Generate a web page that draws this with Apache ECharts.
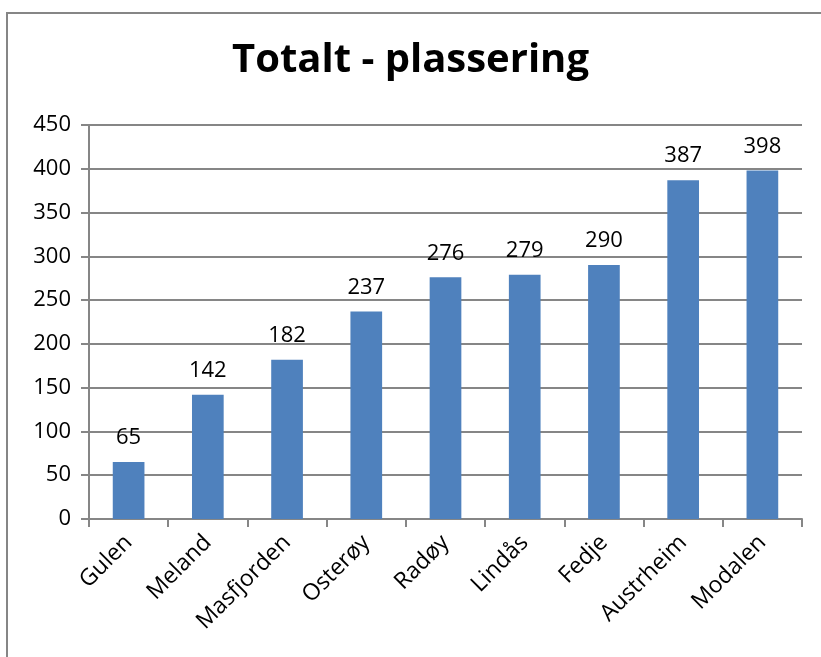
<!DOCTYPE html>
<html>
<head>
<meta charset="utf-8">
<script src="https://cdn.jsdelivr.net/npm/echarts@6/dist/echarts.min.js"></script>
<style>
html,body{margin:0;padding:0;background:#fff;}
#c{width:821px;height:657px;}
</style>
</head>
<body>
<div id="c"></div>
<script>
const categories = ["Gulen","Meland","Masfjorden","Osterøy","Radøy","Lindås","Fedje","Austrheim","Modalen"];
const values = [65,142,182,237,276,279,290,387,398];
const yTicks = [0,50,100,150,200,250,300,350,400,450];

const chart = echarts.init(document.getElementById('c'), null, {renderer:'canvas'});
const FONT = 'Open Sans';
chart.setOption({
  backgroundColor:'#fff',
  animation:false,
  title:{
    text:'Totalt - plassering',
    left:'center', top:36,
    textStyle:{fontFamily:FONT, fontWeight:'bold', fontSize:40, color:'#000'}
  },
  graphic:[{
    type:'rect', shape:{x:7,y:13,width:900,height:800},
    style:{fill:'none', stroke:'#868686', lineWidth:2}, silent:true
  }],
  grid:{left:89, right:19, top:125, bottom:138},
  xAxis:{
    type:'category', data:categories,
    axisLine:{lineStyle:{color:'#868686', width:2}},
    axisTick:{show:true, alignWithLabel:false, length:8, lineStyle:{color:'#868686', width:2}},
    axisLabel:{rotate:45, color:'#000', fontFamily:FONT, fontSize:23, margin:20, interval:0}
  },
  yAxis:{
    type:'value', min:0, max:450, interval:50,
    axisLine:{show:true, lineStyle:{color:'#868686', width:2}},
    axisTick:{show:true, length:8, lineStyle:{color:'#868686', width:2}},
    splitLine:{lineStyle:{color:'#868686', width:2}},
    axisLabel:{color:'#000', fontFamily:FONT, fontSize:22, margin:18,
      formatter:v=>yTicks.includes(v)?String(v):''}
  },
  series:[{
    type:'bar', data:values, barWidth:'40%',
    itemStyle:{color:'#4F81BD'},
    label:{show:true, position:'top', distance:13, color:'#000', fontFamily:FONT, fontSize:22}
  }]
});
</script>
</body>
</html>
